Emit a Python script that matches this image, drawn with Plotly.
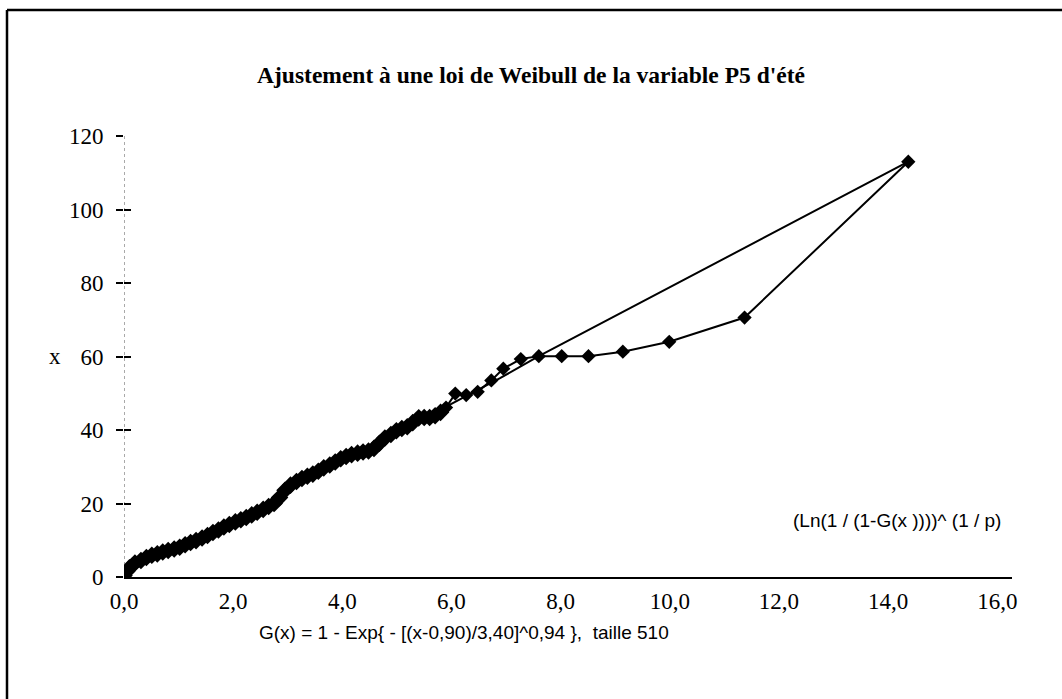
import plotly.graph_objects as go

# Observed quantiles: transformed probability (Ln(1/(1-G(x))))^(1/p) vs observed P5 value
obs_t = [0.00, 0.05, 0.10, 0.20, 0.31, 0.41, 0.51, 0.61, 0.71, 0.81, 0.92,
         1.02, 1.12, 1.22, 1.32, 1.43, 1.53, 1.63, 1.73, 1.83, 1.93,
         2.04, 2.14, 2.24, 2.34, 2.44, 2.55, 2.65, 2.75, 2.85, 2.95,
         3.05, 3.16, 3.26, 3.36, 3.46, 3.56, 3.66, 3.77, 3.87, 3.97,
         4.07, 4.17, 4.28, 4.38, 4.48, 4.58, 4.68, 4.78, 4.89, 4.99,
         5.09, 5.19, 5.29, 5.40, 5.50, 5.60, 5.70, 5.80, 5.90,
         6.07, 6.27, 6.48, 6.73, 6.95, 7.27, 7.60, 8.02, 8.51, 9.14,
         9.99, 11.37, 14.37]
obs_x = [0.4, 1.5, 2.5, 3.8, 4.5, 5.3, 5.9, 6.3, 6.8, 7.2, 7.6,
         8.1, 8.8, 9.4, 9.9, 10.6, 11.3, 12.1, 12.8, 13.6, 14.3,
         15.0, 15.6, 16.2, 16.9, 17.6, 18.4, 19.2, 20.0, 21.6, 23.6,
         25.0, 26.0, 26.8, 27.4, 28.0, 28.8, 29.7, 30.5, 31.3, 32.2,
         32.8, 33.3, 33.7, 34.0, 34.3, 35.0, 36.4, 37.8, 38.8, 39.8,
         40.4, 40.9, 42.0, 43.3, 43.4, 43.4, 43.9, 44.8, 46.1,
         49.9, 49.5, 50.4, 53.5, 56.7, 59.3, 60.1, 60.1, 60.1, 61.3,
         64.0, 70.6, 113.0]

# the lower part of the sample is very dense (hundreds of overlapping points)
N_DENSE = 59

# Fitted Weibull line
fit_t = [0.0, 1.02, 2.04, 2.85, 3.56, 4.58, 5.60, 6.89, 7.60, 14.37]
fit_x = [0.9, 8.3, 15.2, 21.5, 28.8, 35.6, 44.0, 54.1, 60.1, 113.0]

x_ticks = [0, 2, 4, 6, 8, 10, 12, 14, 16]
x_tick_text = ["0,0", "2,0", "4,0", "6,0", "8,0", "10,0", "12,0", "14,0", "16,0"]
y_ticks = [0, 20, 40, 60, 80, 100, 120]

W, H = 1062, 699
ML, MR, MT, MB = 124, 50, 136, 122
PW, PH = W - ML - MR, H - MT - MB


def px(xp):
    return (xp - ML) / PW


def py(yp):
    return (H - MB - yp) / PH


SERIF = "Liberation Serif, Times New Roman, serif"
SANS = "Liberation Sans, Arial, sans-serif"

fig = go.Figure()

fig.add_trace(go.Scatter(
    x=fit_t, y=fit_x, mode="lines",
    line=dict(color="black", width=2),
    hoverinfo="skip",
))
fig.add_trace(go.Scatter(
    x=obs_t, y=obs_x, mode="lines+markers",
    line=dict(color="black", width=2),
    marker=dict(symbol="diamond", size=11, color="black"),
))
# overlapping markers of the dense part form a thicker band
fig.add_trace(go.Scatter(
    x=obs_t[:N_DENSE], y=obs_x[:N_DENSE], mode="markers",
    marker=dict(symbol="diamond", size=13.5, color="black"),
    hoverinfo="skip",
))

# second y axis to draw the inner half of the crossing tick marks
fig.add_trace(go.Scatter(x=[None], y=[None], yaxis="y2", showlegend=False))

fig.update_layout(
    width=W, height=H,
    margin=dict(l=ML, r=MR, t=MT, b=MB),
    paper_bgcolor="white", plot_bgcolor="white",
    showlegend=False,
    title=dict(
        text="<b>Ajustement à une loi de Weibull de la variable P5 d'été</b>",
        x=531 / W, xanchor="center", xref="container",
        y=1 - 75 / H, yanchor="middle", yref="container",
        font=dict(family=SERIF, size=23.5, color="black"),
    ),
    xaxis=dict(
        range=[0, 16.27], tickvals=x_ticks, ticktext=x_tick_text,
        showgrid=False, zeroline=False,
        showline=True, linecolor="black", linewidth=1.5,
        ticks="", ticklabelstandoff=3,
        tickfont=dict(family=SERIF, size=23, color="black"),
    ),
    yaxis=dict(
        range=[0, 120], tickvals=y_ticks,
        showgrid=False, zeroline=False, showline=False,
        ticks="outside", ticklen=7, tickwidth=1.5, tickcolor="black",
        ticklabelstandoff=8,
        tickfont=dict(family=SERIF, size=23, color="black"),
    ),
    yaxis2=dict(
        range=[0, 120], tickvals=y_ticks, overlaying="y", side="left",
        showgrid=False, zeroline=False, showline=False,
        ticks="inside", ticklen=7, tickwidth=1.5, tickcolor="black",
        showticklabels=False,
    ),
    shapes=[
        # dotted vertical axis line
        dict(type="line", xref="x", yref="y", x0=0, x1=0, y0=0, y1=120,
             line=dict(color="#555555", width=1, dash="dot"), layer="below"),
        # outer frame of the chart
        dict(type="line", xref="paper", yref="paper",
             x0=px(7), x1=px(W + 10), y0=py(10), y1=py(10),
             line=dict(color="black", width=2.5)),
        dict(type="line", xref="paper", yref="paper",
             x0=px(7), x1=px(7), y0=py(10), y1=py(H + 10),
             line=dict(color="black", width=2.5)),
    ],
    annotations=[
        dict(text="x", xref="paper", yref="y", x=px(55), y=60,
             xanchor="center", yanchor="middle", showarrow=False,
             font=dict(family=SERIF, size=23, color="black")),
        dict(text="(Ln(1 / (1-G(x ))))^ (1 / p)", xref="paper", yref="paper",
             x=px(1003), y=py(520), xanchor="right", yanchor="middle",
             showarrow=False,
             font=dict(family=SANS, size=19, color="black")),
        dict(text="G(x) = 1 - Exp{ - [(x-0,90)/3,40]^0,94 },  taille 510",
             xref="paper", yref="paper",
             x=px(257), y=py(632), xanchor="left", yanchor="middle",
             showarrow=False,
             font=dict(family=SANS, size=19, color="black")),
    ],
)

fig.write_html("out.html")
